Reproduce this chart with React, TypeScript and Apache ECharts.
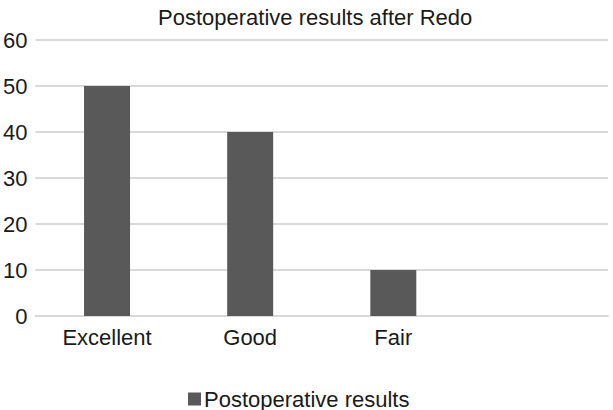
import React, { useEffect, useRef } from "react";
import * as echarts from "echarts";

const categories = ["Excellent", "Good", "Fair", ""];
const values = [50, 40, 10, null];
const seriesName = "Postoperative results";
const titleText = "Postoperative results after Redo";

export default function App() {
  const ref = useRef<HTMLDivElement>(null);
  useEffect(() => {
    const chart = echarts.init(ref.current!, undefined, { renderer: "svg" });
    const font = "'Liberation Sans', Arial, Helvetica, sans-serif";
    chart.setOption({
      animation: false,
      backgroundColor: "#ffffff",
      title: {
        text: titleText,
        left: 153,
        top: 1,
        textStyle: { fontFamily: font, fontSize: 22, fontWeight: "normal", color: "#1a1a1a" },
      },
      legend: {
        data: [seriesName],
        left: 183,
        top: 383,
        itemWidth: 13,
        itemHeight: 13,
        icon: "rect",
        textStyle: { fontFamily: font, fontSize: 22, color: "#1a1a1a", padding: [0, 0, 0, -2] },
      },
      grid: { left: 32, right: 5, top: 40, bottom: 94, containLabel: false },
      xAxis: {
        type: "category",
        data: categories,
        axisLine: { show: true, lineStyle: { color: "#d9d9d9", width: 2 } },
        axisTick: { show: false },
        axisLabel: { fontFamily: font, fontSize: 22, color: "#1a1a1a", margin: 10 },
      },
      yAxis: {
        type: "value",
        min: 0,
        max: 60,
        interval: 10,
        axisLine: { show: false },
        axisTick: { show: false },
        splitLine: { lineStyle: { color: "#d9d9d9", width: 2 } },
        axisLabel: { fontFamily: font, fontSize: 22, color: "#1a1a1a", margin: 8 },
      },
      series: [
        {
          name: seriesName,
          type: "bar",
          data: values,
          barWidth: 46,
          itemStyle: { color: "#595959" },
        },
      ],
    });
    return () => chart.dispose();
  }, []);
  return (
    <div
      ref={ref}
      style={{ position: "fixed", left: 0, top: 0, width: 613, height: 410 }}
    />
  );
}
